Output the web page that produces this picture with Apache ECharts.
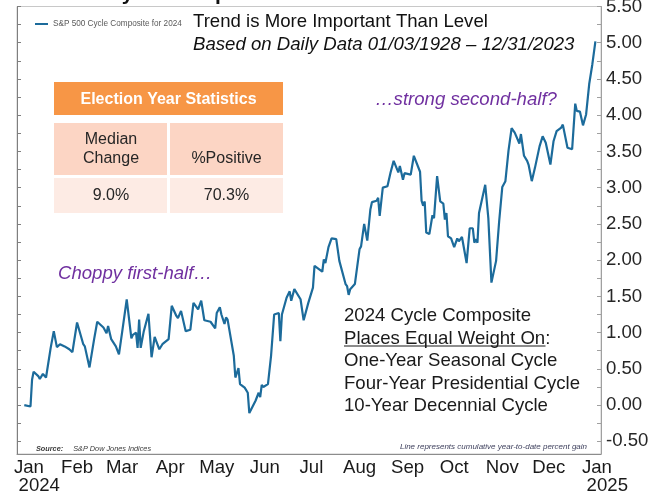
<!DOCTYPE html>
<html>
<head>
<meta charset="utf-8">
<script src="https://cdn.jsdelivr.net/npm/echarts@6/dist/echarts.min.js"></script>
<style>
html, body { margin: 0; padding: 0; background: #fff; }
#main { width: 665px; height: 494px; }
</style>
</head>
<body>
<div id="main"></div>
<script>
// data (cumulative YTD % gain)
var seriesName = 'S&P 500 Cycle Composite for 2024';
var dates = [
  '2023-12-29', '2024-01-02', '2024-01-03', '2024-01-04', '2024-01-07', '2024-01-08', '2024-01-10', '2024-01-12',
  '2024-01-15', '2024-01-17', '2024-01-19', '2024-01-21', '2024-01-24', '2024-01-27', '2024-01-29', '2024-02-01',
  '2024-02-02', '2024-02-05', '2024-02-06', '2024-02-09', '2024-02-12', '2024-02-14', '2024-02-18', '2024-02-20',
  '2024-02-21', '2024-02-23', '2024-02-26', '2024-02-28', '2024-03-01', '2024-03-04', '2024-03-07', '2024-03-08',
  '2024-03-10', '2024-03-11', '2024-03-12', '2024-03-13', '2024-03-15', '2024-03-18', '2024-03-20', '2024-03-22',
  '2024-03-25', '2024-03-27', '2024-03-31', '2024-04-02', '2024-04-05', '2024-04-06', '2024-04-08', '2024-04-11',
  '2024-04-14', '2024-04-16', '2024-04-19', '2024-04-21', '2024-04-23', '2024-04-27', '2024-04-30', '2024-05-01',
  '2024-05-03', '2024-05-04', '2024-05-06', '2024-05-07', '2024-05-08', '2024-05-12', '2024-05-13', '2024-05-15',
  '2024-05-16', '2024-05-19', '2024-05-21', '2024-05-22', '2024-05-26', '2024-05-28', '2024-05-29', '2024-05-30',
  '2024-05-31', '2024-06-03', '2024-06-05', '2024-06-07', '2024-06-10', '2024-06-11', '2024-06-12', '2024-06-15',
  '2024-06-17', '2024-06-18', '2024-06-20', '2024-06-24', '2024-06-26', '2024-06-29', '2024-07-02', '2024-07-03',
  '2024-07-08', '2024-07-09', '2024-07-10', '2024-07-12', '2024-07-14', '2024-07-17', '2024-07-19', '2024-07-23',
  '2024-07-24', '2024-07-25', '2024-07-26', '2024-07-29', '2024-08-01', '2024-08-02', '2024-08-04', '2024-08-06',
  '2024-08-08', '2024-08-09', '2024-08-12', '2024-08-13', '2024-08-14', '2024-08-16', '2024-08-17', '2024-08-19',
  '2024-08-21', '2024-08-23', '2024-08-26', '2024-08-27', '2024-08-29', '2024-08-30', '2024-09-03', '2024-09-05',
  '2024-09-09', '2024-09-10', '2024-09-11', '2024-09-12', '2024-09-13', '2024-09-15', '2024-09-17', '2024-09-18',
  '2024-09-20', '2024-09-22', '2024-09-24', '2024-09-25', '2024-09-26', '2024-09-27', '2024-09-29', '2024-10-01',
  '2024-10-03', '2024-10-04', '2024-10-06', '2024-10-09', '2024-10-11', '2024-10-13', '2024-10-14', '2024-10-15',
  '2024-10-16', '2024-10-17', '2024-10-21', '2024-10-23', '2024-10-25', '2024-10-28', '2024-10-30', '2024-11-01',
  '2024-11-03', '2024-11-05', '2024-11-06', '2024-11-07', '2024-11-09', '2024-11-12', '2024-11-13', '2024-11-15',
  '2024-11-17', '2024-11-18', '2024-11-20', '2024-11-22', '2024-11-25', '2024-11-27', '2024-11-29', '2024-12-02',
  '2024-12-04', '2024-12-06', '2024-12-09', '2024-12-10', '2024-12-13', '2024-12-16', '2024-12-18', '2024-12-19',
  '2024-12-21', '2024-12-23', '2024-12-25', '2024-12-27', '2024-12-29', '2024-12-31'
];
var values = [
  0.00, -0.02, 0.35, 0.46, 0.40, 0.36, 0.43, 0.38,
  0.79, 1.02, 0.80, 0.84, 0.81, 0.77, 0.73, 1.14,
  1.14, 0.84, 0.81, 0.52, 0.91, 1.15, 1.07, 0.99,
  1.09, 0.91, 0.81, 0.70, 1.00, 1.46, 0.92, 0.97,
  1.00, 0.79, 1.18, 0.79, 1.02, 1.26, 0.66, 0.94,
  0.77, 0.84, 0.91, 1.37, 1.23, 1.20, 1.30, 1.02,
  1.04, 1.41, 1.32, 1.44, 1.17, 1.15, 1.06, 1.27,
  1.35, 1.25, 1.12, 1.21, 1.18, 0.68, 0.38, 0.51,
  0.29, 0.24, 0.17, -0.11, 0.06, 0.17, 0.11, 0.28,
  0.25, 0.29, 0.68, 1.25, 1.27, 0.88, 1.25, 1.48,
  1.57, 1.44, 1.60, 1.46, 1.17, 1.41, 1.62, 1.92,
  1.84, 2.01, 1.96, 2.18, 2.30, 2.29, 1.99, 1.67,
  1.64, 1.52, 1.60, 1.67, 2.15, 2.19, 2.50, 2.27,
  2.70, 2.80, 2.82, 2.86, 2.61, 3.00, 3.01, 3.02,
  3.21, 3.37, 3.21, 3.30, 3.11, 3.20, 3.18, 3.44,
  3.22, 2.82, 2.75, 2.81, 2.38, 2.36, 2.62, 2.58,
  3.16, 2.81, 2.78, 2.56, 2.65, 2.33, 2.30, 2.18,
  2.30, 2.26, 2.32, 1.96, 2.44, 2.44, 2.24, 2.29,
  2.24, 2.65, 3.04, 2.58, 1.69, 1.99, 2.54, 3.01,
  3.09, 3.51, 3.53, 3.82, 3.76, 3.61, 3.74, 3.44,
  3.37, 3.31, 3.09, 3.27, 3.57, 3.71, 3.62, 3.32,
  3.64, 3.78, 3.83, 3.87, 3.55, 3.53, 4.16, 4.06,
  4.05, 3.86, 4.01, 4.43, 4.70, 5.02
];
var monthNames = ['Jan', 'Feb', 'Mar', 'Apr', 'May', 'Jun', 'Jul', 'Aug', 'Sep', 'Oct', 'Nov', 'Dec'];
var monthTicks = [
  '2024-01-01', '2024-02-01', '2024-03-01', '2024-04-01', '2024-05-01', '2024-06-01', '2024-07-01',
  '2024-08-01', '2024-09-01', '2024-10-01', '2024-11-01', '2024-12-01', '2025-01-01'
];
var yLabelValues = [-0.5, 0, 0.5, 1, 1.5, 2, 2.5, 3, 3.5, 4, 4.5, 5, 5.5];
var yTickValues = [-0.5, -0.25, 0, 0.25, 0.5, 0.75, 1, 1.25, 1.5, 1.75, 2, 2.25, 2.5, 2.75, 3, 3.25,
  3.5, 3.75, 4, 4.25, 4.5, 4.75, 5, 5.25, 5.5];
var statsTitle = 'Election Year Statistics';
var statsHeads = ['Median\nChange', '\n%Positive'];
var statsValues = ['9.0%', '70.3%'];

var DAY = 864e5;
var jan1 = Date.parse('2024-01-01');
var lineData = dates.map(function (d, i) { return [Date.parse(d), values[i]]; });
var FONT = 'Arial, "Liberation Sans", sans-serif';

var myChart = echarts.init(document.getElementById('main'));

var tableEls = [
  { type: 'rect', shape: { x: 54, y: 82, width: 229, height: 33 }, style: { fill: '#F79646' } },
  { type: 'rect', shape: { x: 54, y: 123, width: 113, height: 52 }, style: { fill: '#FCD5C4' } },
  { type: 'rect', shape: { x: 170, y: 123, width: 113, height: 52 }, style: { fill: '#FCD5C4' } },
  { type: 'rect', shape: { x: 54, y: 178, width: 113, height: 35 }, style: { fill: '#FDEBE4' } },
  { type: 'rect', shape: { x: 170, y: 178, width: 113, height: 35 }, style: { fill: '#FDEBE4' } },
  { type: 'text', x: 168.5, y: 100, style: { text: statsTitle, fill: '#fff', fontFamily: FONT, fontSize: 16, fontWeight: 'bold', align: 'center', verticalAlign: 'middle' } },
  { type: 'text', x: 111, y: 149.5, style: { text: statsHeads[0], fill: '#262626', fontFamily: FONT, fontSize: 16, lineHeight: 19, align: 'center', verticalAlign: 'middle' } },
  { type: 'text', x: 226.5, y: 149.5, style: { text: statsHeads[1], fill: '#262626', fontFamily: FONT, fontSize: 16, lineHeight: 19, align: 'center', verticalAlign: 'middle' } },
  { type: 'text', x: 111, y: 196, style: { text: statsValues[0], fill: '#262626', fontFamily: FONT, fontSize: 16, align: 'center', verticalAlign: 'middle' } },
  { type: 'text', x: 226.5, y: 196, style: { text: statsValues[1], fill: '#262626', fontFamily: FONT, fontSize: 16, align: 'center', verticalAlign: 'middle' } }
];

var textEls = [
  // title cut off at the top edge
  { type: 'text', x: 54, y: -6, style: { text: '2024 Cycle Composite', fill: '#111', fontFamily: FONT, fontSize: 21, fontWeight: 'bold', align: 'left', verticalAlign: 'middle' } },
  { type: 'text', x: 193, y: 21.5, style: { text: 'Trend is More Important Than Level', fill: '#111', fontFamily: FONT, fontSize: 18.6, align: 'left', verticalAlign: 'middle' } },
  { type: 'text', x: 193, y: 45, style: { text: 'Based on Daily Data 01/03/1928 \u2013 12/31/2023', fill: '#111', fontFamily: FONT, fontSize: 18.6, fontStyle: 'italic', align: 'left', verticalAlign: 'middle' } },
  { type: 'text', x: 375, y: 100, style: { text: '\u2026strong second-half?', fill: '#7030A0', fontFamily: FONT, fontSize: 18.6, fontStyle: 'italic', align: 'left', verticalAlign: 'middle' } },
  { type: 'text', x: 58, y: 274, style: { text: 'Choppy first-half\u2026', fill: '#7030A0', fontFamily: FONT, fontSize: 18.6, fontStyle: 'italic', align: 'left', verticalAlign: 'middle' } },
  { type: 'text', x: 344, y: 305, style: {
      text: '2024 Cycle Composite\nPlaces Equal Weight On:\nOne-Year Seasonal Cycle\nFour-Year Presidential Cycle\n10-Year Decennial Cycle',
      fill: '#1a1a1a', fontFamily: FONT, fontSize: 18.6, lineHeight: 22.5, align: 'left', verticalAlign: 'top' } },
  { type: 'line', shape: { x1: 344, y1: 346, x2: 545.5, y2: 346 }, style: { stroke: '#1a1a1a', lineWidth: 1.2 } },
  { type: 'text', x: 36, y: 449, style: {
      text: '{b|Source:}   {n|S&P Dow Jones Indices}', align: 'left', verticalAlign: 'middle',
      rich: {
        b: { fontFamily: FONT, fontSize: 7.3, fontWeight: 'bold', fontStyle: 'italic', fill: '#3a3a3a' },
        n: { fontFamily: FONT, fontSize: 7.3, fontStyle: 'italic', fill: '#3a3a3a' }
      } } },
  { type: 'text', x: 587, y: 447, style: { text: 'Line represents cumulative year-to-date percent gain', fill: '#3d3f5c', fontFamily: FONT, fontSize: 8, fontStyle: 'italic', align: 'right', verticalAlign: 'middle' } }
];

var option = {
  animation: false,
  backgroundColor: '#fff',
  grid: {
    left: 17, right: 64, top: 6.5, bottom: 40,
    show: true, borderColor: '#c8c8c8', borderWidth: 1,
    outerBoundsMode: 'none'
  },
  legend: {
    left: 30, top: 15,
    icon: 'rect', itemWidth: 13, itemHeight: 2,
    textStyle: { fontFamily: FONT, fontSize: 8.2, color: '#595959' },
    data: [seriesName]
  },
  xAxis: {
    type: 'value',
    min: jan1 - 7.7 * DAY,
    max: jan1 + 368.6 * DAY,
    splitLine: { show: false },
    axisLine: { show: true, onZero: false, lineStyle: { color: '#8c8c8c', width: 1 } },
    axisTick: { show: false },
    axisLabel: {
      customValues: monthTicks.map(function (d) { return Date.parse(d); }),
      hideOverlap: false,
      showMinLabel: true,
      showMaxLabel: true,
      margin: 5,
      color: '#1a1a1a',
      fontFamily: FONT,
      fontSize: 18.6,
      lineHeight: 18,
      formatter: function (v) {
        var d = new Date(v);
        var m = d.getUTCMonth();
        if (m === 0) {
          return 'Jan\n    ' + d.getUTCFullYear();
        }
        return monthNames[m];
      }
    }
  },
  yAxis: [
    {
      type: 'value',
      position: 'right',
      min: -0.675,
      max: 5.5,
      splitLine: { show: false },
      axisLine: { show: true, lineStyle: { color: '#a0a0a0', width: 1 } },
      axisTick: { show: true, inside: true, length: 4, customValues: yTickValues, lineStyle: { color: '#a0a0a0' } },
      axisLabel: {
        customValues: yLabelValues,
        showMinLabel: true,
        showMaxLabel: true,
        margin: 5,
        color: '#262626',
        fontFamily: FONT,
        fontSize: 18.6,
        formatter: function (v) { return v.toFixed(2); }
      }
    },
    {
      type: 'value',
      position: 'left',
      min: -0.675,
      max: 5.5,
      splitLine: { show: false },
      axisLine: { show: true, onZero: false, lineStyle: { color: '#7f7f7f', width: 1 } },
      axisTick: { show: true, inside: true, length: 4, customValues: yTickValues, lineStyle: { color: '#7f7f7f' } },
      axisLabel: { show: false }
    }
  ],
  series: [
    {
      name: seriesName,
      type: 'line',
      yAxisIndex: 0,
      data: lineData,
      showSymbol: false,
      color: '#1c6b9b',
      lineStyle: { color: '#1c6b9b', width: 2.2 },
      z: 3
    }
  ],
  graphic: { elements: tableEls.concat(textEls) }
};

myChart.setOption(option);
</script>
</body>
</html>
